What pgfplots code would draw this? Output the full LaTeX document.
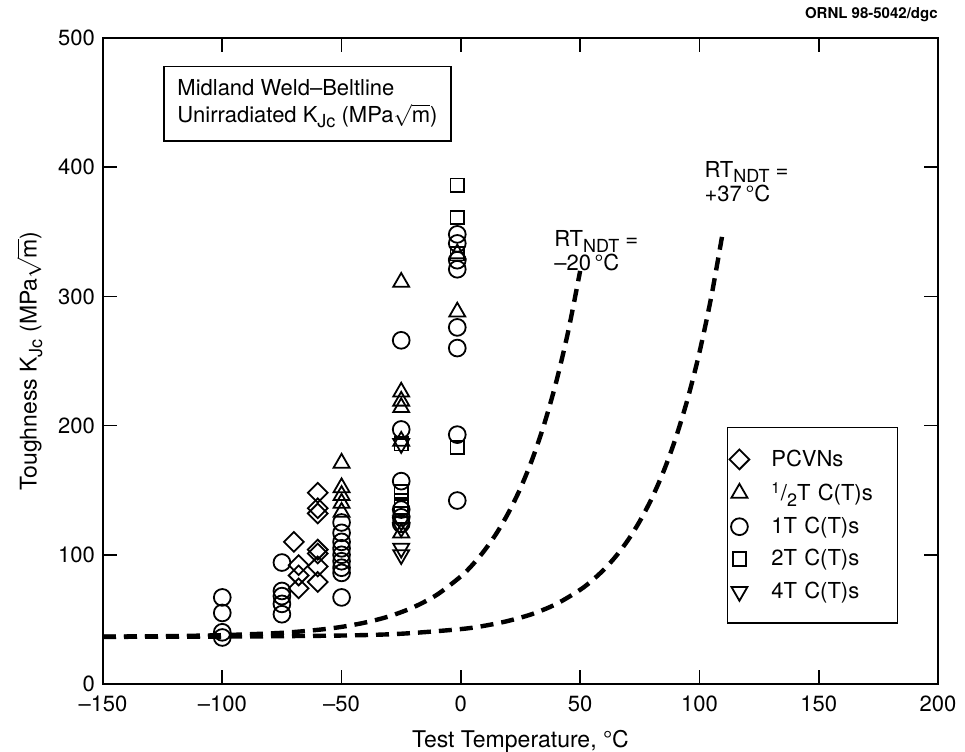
\documentclass[border=0pt]{standalone}
\usepackage{pgfplots}
\pgfplotsset{compat=1.18}
\usepackage{fontspec}
\setmainfont{TeX Gyre Heros}
\newcommand{\sub}[1]{\raisebox{-0.45ex}{\fontsize{9}{10}\selectfont #1}}
\begin{document}
\begin{tikzpicture}
\begin{axis}[
  name=ax,
  scale only axis, width=417.5pt, height=323pt,
  xmin=-150, xmax=200, ymin=0, ymax=500,
  xtick={-150,-100,...,200},
  xticklabels={–150,–100,–50,0,50,100,150,200},
  ytick={0,100,...,500},
  tick align=inside, major tick length=7pt,
  axis line style={line width=1.2pt},
  every tick/.style={black, line width=0.8pt},
  tick label style={font=\fontsize{11}{13}\selectfont},
  xticklabel style={yshift=-2.5pt},
  yticklabel style={xshift=-0.5pt},
  /pgf/number format/assume math mode=true,
  xlabel={Test Temperature, °C},
  ylabel={Toughness K\sub{Jc} (MPa$\sqrt{\mathrm{m}}$)},
  every axis x label/.style={at={(axis description cs:0.5,-0.0882)}, anchor=center, font=\fontsize{11.5}{13}\selectfont},
  every axis y label/.style={at={(axis description cs:-0.088,0.5)}, rotate=90, anchor=center, inner sep=0pt, font=\fontsize{11.5}{13}\selectfont},
  legend style={at={(rel axis cs:0.747,0.398)}, anchor=north west, draw=black, line width=0.8pt,
    font=\fontsize{11}{13}\selectfont, row sep=2.5pt, column sep=9pt, inner xsep=1pt, inner ysep=9pt,
    text width=60pt},
  legend cell align=left,
]
% dashed curves
\addplot[black, line width=2.2pt, dash pattern=on 6.5pt off 4pt, smooth, forget plot] coordinates {
(-150,36.7) (-125,37.0) (-100,37.8) (-75,39.6) (-60,41.9) (-50,44.2) (-40,47.6) (-30,52.4)
(-20,59.3) (-10,69.1) (0,83.3) (5,92.5) (10,103.6) (15,116.8) (20,132.7) (25,151.6)
(30,174.3) (35,201.5) (40,234.0) (45,273.0) (50,319.7)};
\addplot[black, line width=2.2pt, dash pattern=on 6.5pt off 4pt, smooth, forget plot] coordinates {
(-150,36.5) (-100,36.7) (-50,37.5) (-25,38.9) (0,42.5) (10,45.1) (20,48.9) (30,54.2)
(40,61.9) (50,72.9) (55,80.1) (60,88.6) (65,98.9) (70,111.2) (75,126.0) (80,143.6)
(85,164.7) (90,190.0) (95,220.3) (100,256.6) (105,300.0) (110,351.9)};
% PCVNs
\addplot[only marks, mark=square, mark size=3.5pt, mark options={rotate=45, line width=0.9pt}, black] coordinates {
(-70,110) (-68,92) (-68,84) (-68,74)
(-60,148) (-60,136) (-60,132) (-60,104) (-60,101) (-60,91) (-60,79)};
\addlegendentry{PCVNs}
% 1/2T
\addplot[only marks, mark=triangle, mark size=4.6pt, mark options={line width=0.9pt}, black] coordinates {
(-50,171) (-50,152) (-50,146) (-50,140) (-50,133)
(-25,311) (-25,226) (-25,219) (-25,214) (-25,188) (-25,117)
(-1.5,333) (-1.5,288)};
\addlegendentry{\textsuperscript{1}/\sub{2}T C(T)s}
% 1T
\addplot[only marks, mark=o, mark size=4.2pt, mark options={line width=0.9pt}, black] coordinates {
(-100,67) (-100,55) (-100,40) (-100,36)
(-75,94) (-75,72) (-75,68) (-75,62) (-75,54)
(-50,125) (-50,117) (-50,110) (-50,105) (-50,100) (-50,95) (-50,90) (-50,86) (-50,67)
(-25,266) (-25,197) (-25,157) (-25,135) (-25,129) (-25,124)
(-1.5,348) (-1.5,341) (-1.5,328) (-1.5,321) (-1.5,276) (-1.5,260) (-1.5,193) (-1.5,142)};
\addlegendentry{1T C(T)s}
% 2T
\addplot[only marks, mark=square, mark size=3.4pt, mark options={line width=0.9pt}, black] coordinates {
(-25,186) (-25,149) (-25,142) (-25,137)
(-1.5,386) (-1.5,361) (-1.5,333) (-1.5,183)};
\addlegendentry{2T C(T)s}
% 4T
\addplot[only marks, mark=triangle, mark size=4.6pt, mark options={rotate=180, line width=0.9pt}, black] coordinates {
(-25,186) (-25,126) (-25,121) (-25,105) (-25,100)};
\addlegendentry{4T C(T)s}
% annotations
\node[anchor=north west, draw=black, line width=0.8pt, align=left, font=\fontsize{11}{13.5}\selectfont,
  inner xsep=6pt, inner ysep=6.5pt, minimum width=143.5pt]
  at (rel axis cs:0.072,0.957) {Midland Weld--Beltline\\Unirradiated K\sub{Jc} (MPa$\sqrt{\mathrm{m}}$)};
\node[anchor=north west, align=left, font=\fontsize{11}{12}\selectfont, inner sep=0pt]
  at (axis cs:39,351) {RT\sub{NDT} =\\–20\,°C};
\node[anchor=north west, align=left, font=\fontsize{11}{12}\selectfont, inner sep=0pt]
  at (axis cs:102,405) {RT\sub{NDT} =\\+37\,°C};
\end{axis}
\node[anchor=south east, font=\fontsize{7.5}{8}\selectfont\bfseries, inner sep=0pt]
  at ([yshift=8pt]ax.north east) {ORNL 98-5042/dgc};
\pgfresetboundingbox
\path ([xshift=-51.5pt,yshift=-34pt]ax.south west) rectangle ([xshift=13.5pt,yshift=19pt]ax.north east);
\end{tikzpicture}
\end{document}
